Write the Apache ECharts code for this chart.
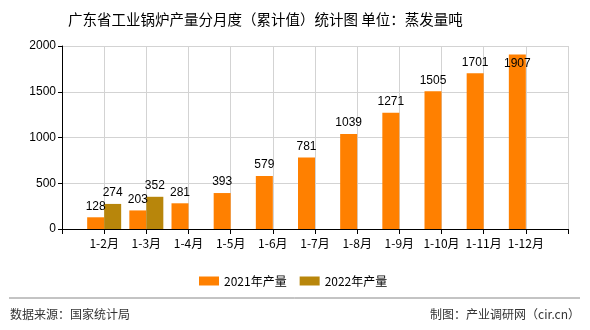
<!DOCTYPE html>
<html><head><meta charset="utf-8">
<script src="https://cdn.jsdelivr.net/npm/echarts@6/dist/echarts.min.js"></script>
<style>html,body{margin:0;padding:0;background:#fff}#c{width:590px;height:330px}</style>
</head><body><div id="c"></div>
<script>
const categories = ['', '1-2月', '1-3月', '1-4月', '1-5月', '1-6月', '1-7月', '1-8月', '1-9月', '1-10月', '1-11月', '1-12月', ''];
const values2021 = [null, 128, 203, 281, 393, 579, 781, 1039, 1271, 1505, 1701, 1907, null];
const values2022 = [null, 274, 352, null, null, null, null, null, null, null, null, null, null];
const seriesNames = ['2021年产量', '2022年产量'];
const yTicks = { min: 0, max: 2000, interval: 500 };

const FONT = "'Liberation Sans','Noto Sans CJK SC',sans-serif";
const CJK = "'Noto Sans CJK SC',sans-serif";
const chart = echarts.init(document.getElementById('c'));
const d2021 = values2021.map((v, i) => i === 11 ? { value: v, label: { position: 'insideTop', distance: 3 } } : v);
chart.setOption({
  animation: false,
  textStyle: { fontFamily: FONT },
  title: {
    text: '广东省工业锅炉产量分月度（累计值）统计图 单位：蒸发量吨',
    left: 63, top: 7,
    textStyle: { fontSize: 14.5, fontWeight: 'normal', color: '#000', fontFamily: CJK }
  },
  legend: {
    left: 194, top: 270, itemWidth: 20, itemHeight: 9, itemGap: 13, icon: 'rect',
    textStyle: { fontSize: 12, color: '#000', fontFamily: CJK },
    data: seriesNames
  },
  grid: { left: 62, right: 22, top: 46, bottom: 101 },
  xAxis: {
    type: 'category', data: categories, boundaryGap: false,
    axisLine: { lineStyle: { color: '#000' } },
    axisTick: { show: true, length: 5, lineStyle: { color: '#000' } },
    axisLabel: { color: '#000', fontSize: 12, interval: 0, margin: 8, fontFamily: CJK },
    splitLine: { show: true, lineStyle: { color: '#d3d3d3' } }
  },
  yAxis: {
    type: 'value', min: yTicks.min, max: yTicks.max, interval: yTicks.interval,
    axisLine: { show: true, lineStyle: { color: '#000' } },
    axisTick: { show: true, length: 4, lineStyle: { color: '#000' } },
    axisLabel: { color: '#000', fontSize: 12, margin: 6, formatter: v => String(v) },
    splitLine: { lineStyle: { color: '#d3d3d3' } }
  },
  series: [
    { name: seriesNames[0], type: 'bar', data: d2021, barWidth: 17, barGap: '0%', itemStyle: { color: '#FF8000' },
      label: { show: true, position: 'top', color: '#000', fontSize: 12, distance: 5 } },
    { name: seriesNames[1], type: 'bar', data: values2022, barWidth: 17, barGap: '0%', itemStyle: { color: '#B8860B' },
      label: { show: true, position: 'top', color: '#000', fontSize: 12, distance: 5 } }
  ],
  graphic: [
    { type: 'line', shape: { x1: 9, y1: 298, x2: 580, y2: 298 }, style: { stroke: '#888', lineWidth: 1 } },
    { type: 'text', left: 10, top: 308, style: { text: '数据来源：国家统计局', fill: '#333', font: "12px " + CJK } },
    { type: 'text', right: 10, top: 308, style: { text: '制图：产业调研网（cir.cn）', fill: '#333', font: "12px " + CJK } }
  ]
});
</script></body></html>
